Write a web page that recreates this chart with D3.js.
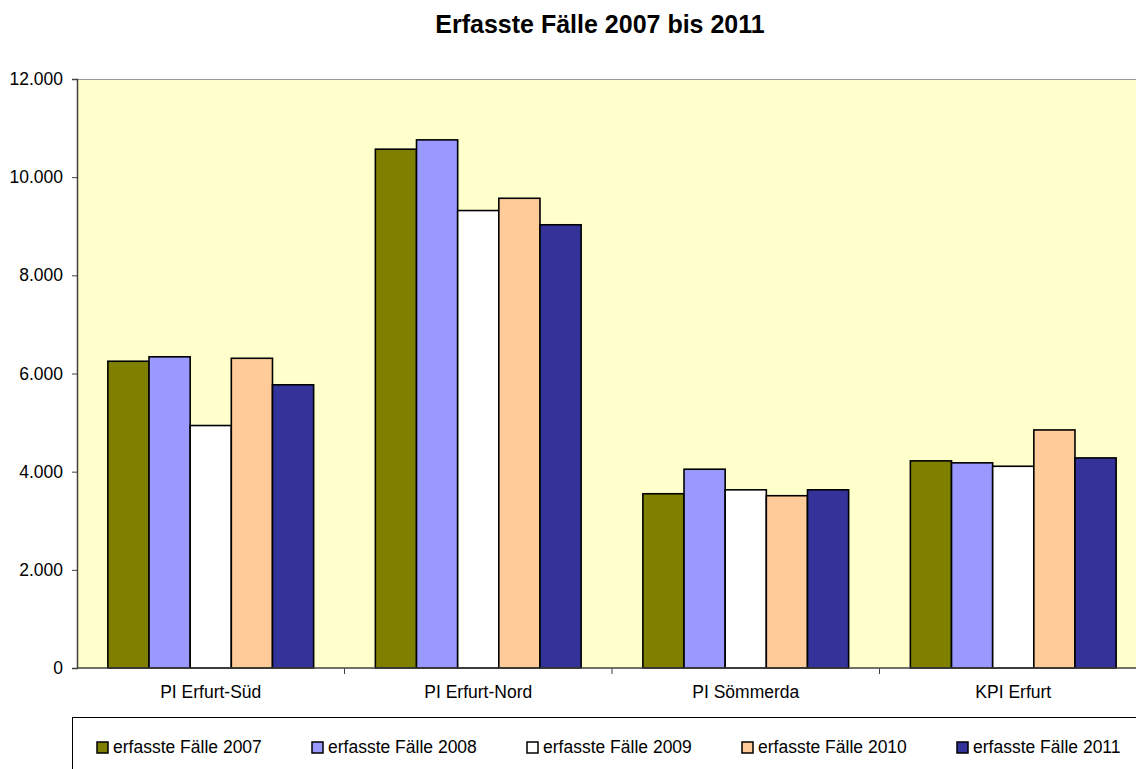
<!DOCTYPE html>
<html>
<head>
<meta charset="utf-8">
<script src="https://cdn.jsdelivr.net/npm/d3@7"></script>
<style>
	body { margin: 0; background: #fff; }
	svg { display: block; font-family: "Liberation Sans", Arial, sans-serif; }
</style>
</head>
<body>
<div id="chart"></div>
<script>
// Daten
var categories = ["PI Erfurt-Süd", "PI Erfurt-Nord", "PI Sömmerda", "KPI Erfurt"];
var series = ["erfasste Fälle 2007", "erfasste Fälle 2008", "erfasste Fälle 2009", "erfasste Fälle 2010", "erfasste Fälle 2011"];
var v2007 = [6250, 10570, 3550, 4220];
var v2008 = [6340, 10760, 4050, 4180];
var v2009 = [4940, 9320, 3630, 4110];
var v2010 = [6310, 9570, 3510, 4850];
var v2011 = [5770, 9030, 3630, 4280];
var yTicks = [0, 2000, 4000, 6000, 8000, 10000, 12000];
var colors = ["#808000", "#9999FF", "#FFFFFF", "#FFCC99", "#333399"];

var values = [v2007, v2008, v2009, v2010, v2011];

var width = 1136, height = 769;
var pLeft = 77, pTop = 79, pRight = 1147, pBottom = 668;

var svg = d3.select("#chart").append("svg")
	.attr("width", width)
	.attr("height", height);

svg.append("text")
	.attr("x", 600)
	.attr("y", 33)
	.attr("text-anchor", "middle")
	.attr("font-size", "25px")
	.attr("font-weight", "bold")
	.text("Erfasste Fälle 2007 bis 2011");

var x0 = d3.scaleBand().domain(categories).range([pLeft, pRight]);
// Excel-Stil: Abstand 150% der Balkenbreite
var bw = x0.bandwidth() / (series.length + 1.5);
var x1 = d3.scaleBand().domain(series)
	.range([bw * 0.75, bw * 0.75 + bw * series.length]);
var y = d3.scaleLinear().domain([0, 12000]).range([pBottom, pTop]);

// Zeichenfläche
svg.append("rect")
	.attr("x", pLeft).attr("y", pTop)
	.attr("width", pRight - pLeft).attr("height", pBottom - pTop)
	.attr("fill", "#FFFFCC");
svg.append("line")
	.attr("x1", pLeft).attr("x2", pRight)
	.attr("y1", pTop + 0.5).attr("y2", pTop + 0.5)
	.attr("stroke", "#999");

// Balken
var groups = svg.selectAll("g.cat")
	.data(categories)
	.enter().append("g")
	.attr("class", "cat")
	.attr("transform", function(d) { return "translate(" + x0(d) + ",0)"; });

groups.selectAll("rect")
	.data(function(d, i) {
		return series.map(function(s, j) { return { s: s, v: values[j][i], c: colors[j] }; });
	})
	.enter().append("rect")
	.attr("x", function(d) { return x1(d.s); })
	.attr("y", function(d) { return y(d.v); })
	.attr("width", x1.bandwidth())
	.attr("height", function(d) { return y(0) - y(d.v); })
	.attr("fill", function(d) { return d.c; })
	.attr("stroke", "#000")
	.attr("stroke-width", 1.6);

// Y-Achse
var fmt = function(d) { return d3.format(",")(d).replace(/,/g, "."); };
var yAxis = svg.append("g")
	.attr("transform", "translate(" + pLeft + ",0)")
	.call(d3.axisLeft(y).tickValues(yTicks).tickFormat(fmt).tickSize(5).tickPadding(9));
yAxis.select(".domain").attr("stroke", "#404040").attr("stroke-width", 1.5);
yAxis.selectAll(".tick line").attr("stroke", "#404040");
yAxis.selectAll("text").attr("font-size", "17.5px").attr("fill", "#000")
	.attr("font-family", "Liberation Sans, Arial, sans-serif");

// X-Achse
svg.append("line")
	.attr("x1", pLeft).attr("x2", pRight)
	.attr("y1", pBottom).attr("y2", pBottom)
	.attr("stroke", "#404040").attr("stroke-width", 1.5);
svg.selectAll("line.sep")
	.data(categories.slice(1))
	.enter().append("line")
	.attr("class", "sep")
	.attr("x1", function(d) { return x0(d); })
	.attr("x2", function(d) { return x0(d); })
	.attr("y1", pBottom).attr("y2", pBottom + 6)
	.attr("stroke", "#404040");
svg.selectAll("text.cat")
	.data(categories)
	.enter().append("text")
	.attr("class", "cat")
	.attr("x", function(d) { return x0(d) + x0.bandwidth() / 2; })
	.attr("y", 698)
	.attr("text-anchor", "middle")
	.attr("font-size", "17.5px")
	.text(function(d) { return d; });

// Legende
svg.append("rect")
	.attr("x", 72.5).attr("y", 717.5)
	.attr("width", 1100).attr("height", 80)
	.attr("fill", "#fff")
	.attr("stroke", "#000");

var leg = svg.selectAll("g.leg")
	.data(series)
	.enter().append("g")
	.attr("class", "leg")
	.attr("transform", function(d, i) { return "translate(" + (97 + i * 215) + ",742)"; });
leg.append("rect")
	.attr("width", 11).attr("height", 11)
	.attr("fill", function(d, i) { return colors[i]; })
	.attr("stroke", "#000")
	.attr("stroke-width", 1.5);
leg.append("text")
	.attr("x", 16)
	.attr("y", 11)
	.attr("font-size", "17.5px")
	.text(function(d) { return d; });
</script>
</body>
</html>
